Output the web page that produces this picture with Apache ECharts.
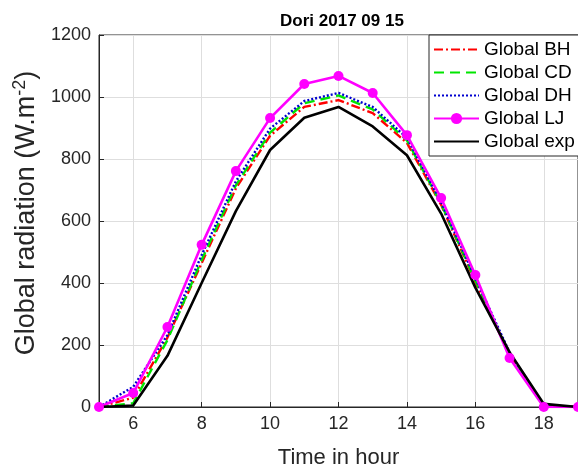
<!DOCTYPE html>
<html>
<head>
<meta charset="utf-8">
<script src="https://cdn.jsdelivr.net/npm/echarts@6/dist/echarts.min.js"></script>
<style>
  html, body { margin: 0; padding: 0; background: #fff; }
  #chart { width: 578px; height: 475px; }
</style>
</head>
<body>
<div id="chart"></div>
<script>
// hours of the day
const hours = [5, 6, 7, 8, 9, 10, 11, 12, 13, 14, 15, 16, 17, 18, 19]
// global radiation, W.m-2
const globalBH = [0, 30, 224, 464, 705, 875, 968, 990, 948, 852, 652, 403, 170, 3, 0]
const globalCD = [0, 12, 216, 474, 715, 885, 980, 1005, 960, 860, 655, 408, 172, 3, 0]
const globalDH = [0, 65, 232, 490, 728, 898, 987, 1013, 968, 868, 660, 416, 176, 3, 0]
const globalLJ = [0, 45, 258, 523, 761, 932, 1042, 1068, 1013, 877, 674, 426, 158, 0, 0]
const globalExp = [0, 5, 165, 400, 632, 829, 933, 968, 905, 812, 624, 385, 177, 10, 0]

const seriesNames = ['Global BH', 'Global CD', 'Global DH', 'Global LJ', 'Global exp']
const yTicks = [0, 200, 400, 600, 800, 1000, 1200]

const font = 'Liberation Sans, Arial, sans-serif'
const axisColor = '#262626'

function pairs (values) {
  return hours.map((h, i) => [h, values[i]])
}

// legend entries: only LJ keeps its marker
const legendData = seriesNames.map(name => {
  if (name === 'Global LJ') return { name: name }
  return { name: name, itemStyle: { color: 'rgba(0,0,0,0)', borderWidth: 0 } }
})

const chart = echarts.init(document.getElementById('chart'))

const option = {
  animation: false,
  backgroundColor: '#fff',
  title: {
    text: 'Dori 2017 09 15',
    left: 337,
    top: 8,
    textAlign: 'center',
    textStyle: {
      fontFamily: font,
      fontWeight: 'bold',
      fontSize: 17,
      color: '#000'
    }
  },
  legend: {
    orient: 'vertical',
    left: 429,
    top: 35,
    padding: [5, 40, 5, 4],
    itemWidth: 45,
    itemHeight: 14,
    itemGap: 4,
    backgroundColor: '#fff',
    borderColor: axisColor,
    borderWidth: 1,
    borderRadius: 0,
    data: legendData,
    textStyle: {
      fontFamily: font,
      fontSize: 19,
      color: '#000'
    }
  },
  grid: {
    left: 99,
    top: 35,
    right: -1,
    bottom: 68,
    show: true,
    borderColor: axisColor,
    borderWidth: 1,
    containLabel: false
  },
  xAxis: {
    type: 'value',
    min: 5,
    max: 19,
    splitNumber: 7,
    name: 'Time in hour',
    nameLocation: 'middle',
    nameGap: 40,
    nameTextStyle: {
      fontFamily: font,
      fontSize: 22,
      color: axisColor
    },
    axisLine: { show: true, lineStyle: { color: axisColor, width: 1 } },
    axisTick: { show: true, inside: true, length: 5, lineStyle: { color: axisColor } },
    axisLabel: {
      showMinLabel: false,
      showMaxLabel: false,
      margin: 8,
      fontFamily: font,
      fontSize: 18,
      color: axisColor
    },
    splitLine: { show: true, lineStyle: { color: '#dedede', width: 1 } }
  },
  yAxis: {
    type: 'value',
    min: yTicks[0],
    max: yTicks[yTicks.length - 1],
    interval: 200,
    name: '{a|Global radiation (W.m}{s|-2}{a|)}',
    nameLocation: 'middle',
    nameGap: 44,
    nameTextStyle: {
      padding: [0, 0, 0, 16],
      rich: {
        a: { fontFamily: font, fontSize: 27, color: axisColor, lineHeight: 32 },
        s: { fontFamily: font, fontSize: 18, color: axisColor, verticalAlign: 'top', lineHeight: 18 }
      }
    },
    axisLine: { show: true, lineStyle: { color: axisColor, width: 1 } },
    axisTick: { show: true, inside: true, length: 5, lineStyle: { color: axisColor } },
    axisLabel: {
      margin: 8,
      fontFamily: font,
      fontSize: 18,
      color: axisColor,
      formatter: value => String(value)
    },
    splitLine: { show: true, lineStyle: { color: '#dedede', width: 1 } }
  },
  series: [
    {
      name: seriesNames[0],
      type: 'line',
      symbol: 'none',
      data: pairs(globalBH),
      lineStyle: { color: '#ff0000', width: 2.4, type: [9, 3, 2, 3] },
      itemStyle: { color: '#ff0000' }
    },
    {
      name: seriesNames[1],
      type: 'line',
      symbol: 'none',
      data: pairs(globalCD),
      lineStyle: { color: '#00e600', width: 2.4, type: [10, 6] },
      itemStyle: { color: '#00e600' }
    },
    {
      name: seriesNames[2],
      type: 'line',
      symbol: 'none',
      data: pairs(globalDH),
      lineStyle: { color: '#0000d0', width: 2.4, type: [2, 2] },
      itemStyle: { color: '#0000d0' }
    },
    {
      name: seriesNames[3],
      type: 'line',
      symbol: 'circle',
      symbolSize: 10,
      data: pairs(globalLJ),
      lineStyle: { color: '#ff00ff', width: 2.6 },
      itemStyle: { color: '#ff00ff' }
    },
    {
      name: seriesNames[4],
      type: 'line',
      symbol: 'none',
      data: pairs(globalExp),
      lineStyle: { color: '#000', width: 2.6 },
      itemStyle: { color: '#000' }
    }
  ]
}

chart.setOption(option)
</script>
</body>
</html>
